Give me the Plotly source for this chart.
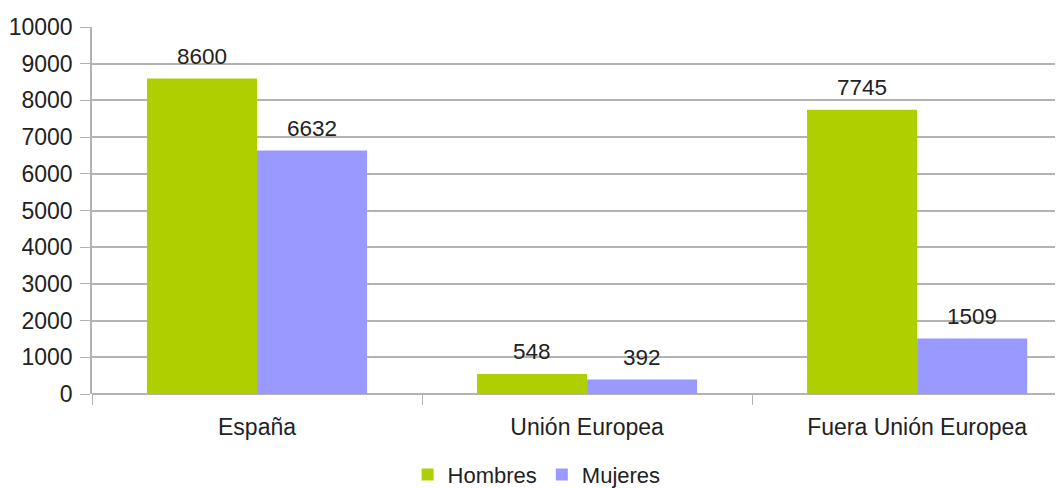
import plotly.graph_objects as go

categories = ["España", "Unión Europea", "Fuera Unión Europea"]
hombres = [8600, 548, 7745]
mujeres = [6632, 392, 1509]
series_names = ["Hombres", "Mujeres"]
y_ticks = [0, 1000, 2000, 3000, 4000, 5000, 6000, 7000, 8000, 9000, 10000]
y_tick_labels = [str(v) for v in y_ticks]

GREEN = "#afcf00"
PURPLE = "#9999ff"
GRID = "#b3b3b3"
TXT = "#222222"
FONT = "Liberation Sans, Arial, sans-serif"
FS = 23

fig = go.Figure()
fig.add_trace(go.Bar(x=categories, y=hombres, name=series_names[0], marker_color=GREEN,
                     marker_line_width=0))
fig.add_trace(go.Bar(x=categories, y=mujeres, name=series_names[1], marker_color=PURPLE,
                     marker_line_width=0))

for vals, shift in ((hombres, -55), (mujeres, 55)):
    for c, v in zip(categories, vals):
        fig.add_annotation(x=c, y=v, text=str(v), showarrow=False, xshift=shift,
                           yshift=22, font=dict(family=FONT, size=22.5, color=TXT))

# the page body adds an 8px offset, so the figure is drawn 8px smaller
fig.update_layout(
    width=1055, height=480,
    margin=dict(l=84, r=0, t=19, b=94, autoexpand=False),
    paper_bgcolor="white", plot_bgcolor="white",
    barmode="group", bargap=0.333, bargroupgap=0,
    font=dict(family=FONT, size=FS, color=TXT),
    showlegend=True,
    legend=dict(orientation="h", x=0.325, xanchor="left", y=-0.22, yanchor="middle",
                font=dict(family=FONT, size=22, color=TXT), itemwidth=30,
                traceorder="normal"),
    xaxis=dict(range=[-0.5, 2.442], tickson="boundaries", ticks="outside", ticklen=10,
               tickcolor=GRID, showgrid=False, showline=False, zeroline=False,
               automargin=False, ticklabelstandoff=17,
               tickfont=dict(family=FONT, size=FS, color=TXT)),
    yaxis=dict(range=[0, 10000], tickvals=y_ticks, ticktext=y_tick_labels,
               ticks="outside", ticklen=10, automargin=False,
               tickcolor=GRID, showgrid=True, gridcolor=GRID, gridwidth=1.5,
               showline=True, linecolor=GRID, linewidth=1.5, zeroline=True,
               zerolinecolor=GRID, zerolinewidth=1.5, ticklabelstandoff=3,
               tickfont=dict(family=FONT, size=FS, color=TXT)),
)

fig.write_html("out.html")
